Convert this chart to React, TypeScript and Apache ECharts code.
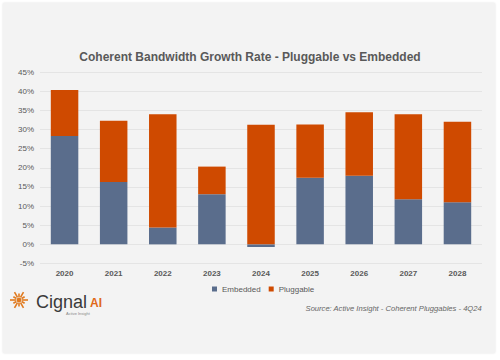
import React, { useEffect, useRef } from "react";
import * as echarts from "echarts";

const years = ["2020", "2021", "2022", "2023", "2024", "2025", "2026", "2027", "2028"];
const embedded = [28.3, 16.3, 4.4, 13.1, -0.7, 17.4, 17.9, 11.8, 11.0];
const pluggable = [12.0, 16.0, 29.6, 7.2, 31.2, 13.9, 16.6, 22.2, 21.0];
const yTicks = { min: -5, max: 45, interval: 5 };

const FONT = "'Liberation Sans', Arial, sans-serif";
const GRAY = "#595959";

export default function App() {
  const ref = useRef<HTMLDivElement>(null);
  useEffect(() => {
    if (!ref.current) return;
    const chart = echarts.init(ref.current, undefined, { renderer: "svg" });
    const rays: any[] = [];
    for (let i = 0; i < 12; i++) {
      const a = (i * Math.PI * 2) / 12;
      const r1 = 3;
      const r2 = i % 2 === 0 ? 9 : 6.5;
      rays.push({
        type: "line",
        shape: { x1: 19 + r1 * Math.cos(a), y1: 300 + r1 * Math.sin(a), x2: 19 + r2 * Math.cos(a), y2: 300 + r2 * Math.sin(a) },
        style: { stroke: "#e07a1f", lineWidth: 1.6 },
      });
    }
    chart.setOption({
      animation: false,
      backgroundColor: "transparent",
      title: {
        text: "Coherent Bandwidth Growth Rate - Pluggable vs Embedded",
        left: "center",
        top: 46,
        textStyle: { fontFamily: FONT, fontSize: 12, fontWeight: "bold", color: GRAY },
      },
      legend: {
        data: ["Embedded", "Pluggable"],
        top: 280,
        left: 207,
        itemWidth: 5,
        itemHeight: 5,
        itemGap: 8,
        icon: "rect",
        textStyle: { fontFamily: FONT, fontSize: 8, color: GRAY },
      },
      grid: { left: 40, right: 18, top: 72, bottom: 96.5, containLabel: false },
      xAxis: {
        type: "category",
        data: years,
        axisLine: { show: false },
        axisTick: { show: false },
        axisLabel: { fontFamily: FONT, fontSize: 8, color: GRAY, fontWeight: "bold", margin: 6 },
      },
      yAxis: {
        type: "value",
        min: yTicks.min,
        max: yTicks.max,
        interval: yTicks.interval,
        axisLabel: { fontFamily: FONT, fontSize: 8, color: GRAY, formatter: "{value}%", margin: 6 },
        splitLine: { lineStyle: { color: "#e4e4e4", width: 1 } },
        axisLine: { show: false },
        axisTick: { show: false },
      },
      series: [
        {
          name: "Embedded",
          type: "bar",
          stack: "total",
          data: embedded,
          barCategoryGap: "44%",
          itemStyle: { color: "#5a6d8c" },
        },
        {
          name: "Pluggable",
          type: "bar",
          stack: "total",
          data: pluggable,
          barCategoryGap: "44%",
          itemStyle: { color: "#cf4a00" },
        },
      ],
      color: ["#5a6d8c", "#cf4a00"],
      graphic: [
        ...rays,
        { type: "circle", shape: { cx: 19, cy: 300, r: 2.5 }, style: { fill: "#e07a1f" } },
        {
          type: "text",
          x: 36,
          y: 293,
          style: { text: "Cignal", fontFamily: FONT, fontSize: 18, lineHeight: 17, fill: "#3a3a3a", fontWeight: "normal" },
        },
        {
          type: "text",
          x: 90,
          y: 297,
          style: { text: "AI", fontFamily: FONT, fontSize: 12, fill: "#e0681a", fontWeight: "bold" },
        },
        {
          type: "text",
          x: 66,
          y: 311,
          style: { text: "Active Insight", fontFamily: FONT, fontSize: 4, fill: "#888" },
        },
        {
          type: "text",
          right: 18,
          top: 304,
          style: {
            text: "Source: Active Insight - Coherent Pluggables - 4Q24",
            fontFamily: FONT,
            fontSize: 7.6,
            fontStyle: "italic",
            fill: "#666",
          },
        },
      ],
    });
    return () => chart.dispose();
  }, []);
  return (
    <div
      style={{
        position: "fixed",
        left: 0,
        top: 0,
        width: 500,
        height: 360,
        background: "#ffffff",
      }}
    >
      <div
        style={{
          position: "absolute",
          left: 3,
          top: 3,
          width: 492,
          height: 350,
          background: "#f3f3f3",
          boxShadow: "0 0 2px rgba(0,0,0,0.12)",
        }}
      />
      <div ref={ref} style={{ position: "absolute", left: 0, top: 0, width: 500, height: 360 }} />
    </div>
  );
}
